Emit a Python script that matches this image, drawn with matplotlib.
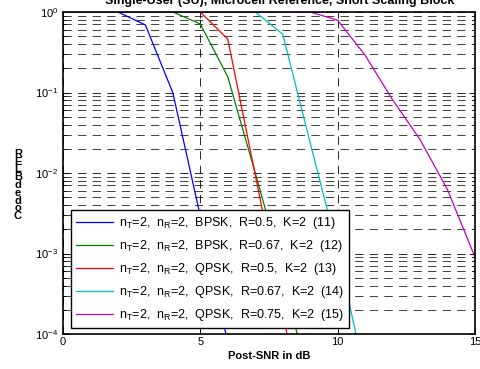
import matplotlib
matplotlib.use("Agg")
import matplotlib.pyplot as plt
import numpy as np

plt.rcParams['font.family'] = ['Liberation Sans', 'DejaVu Sans']
plt.rcParams['mathtext.fontset'] = 'custom'
plt.rcParams['mathtext.rm'] = 'Liberation Sans'
plt.rcParams['mathtext.it'] = 'Liberation Sans:italic'
plt.rcParams['mathtext.bf'] = 'Liberation Sans:bold'
plt.rcParams['lines.scale_dashes'] = False

# ---- data ----
x_blue = [0, 1, 2, 3, 4, 5, 6]
y_blue = [1, 1, 1, 0.69, 0.099, 2.9e-3, 7.8e-5]
x_green = [0, 1, 2, 3, 4, 5, 6, 7, 8, 9]
y_green = [1, 1, 1, 1, 1, 0.71, 0.156, 0.0100, 5.9e-4, 2e-5]
x_red = [0, 1, 2, 3, 4, 5, 6, 7, 8, 9]
y_red = [1, 1, 1, 1, 1, 1, 0.46, 9.5e-3, 1.9e-4, 3e-6]
x_cyan = [0, 1, 2, 3, 4, 5, 6, 7, 8, 9, 10, 11]
y_cyan = [1, 1, 1, 1, 1, 1, 1, 1, 0.53, 0.0236, 1.1e-3, 3e-5]
x_mag = [0, 1, 2, 3, 4, 5, 6, 7, 8, 9, 10, 11, 12, 13, 14, 15]
y_mag = [1, 1, 1, 1, 1, 1, 1, 1, 1, 1, 0.79, 0.29, 0.081, 0.026, 6.2e-3, 9e-4]

labels = [
    r'$\mathregular{n_T}$=2,  $\mathregular{n_R}$=2,  BPSK,  R=0.5,  K=2  (11)',
    r'$\mathregular{n_T}$=2,  $\mathregular{n_R}$=2,  BPSK,  R=0.67,  K=2  (12)',
    r'$\mathregular{n_T}$=2,  $\mathregular{n_R}$=2,  QPSK,  R=0.5,  K=2  (13)',
    r'$\mathregular{n_T}$=2,  $\mathregular{n_R}$=2,  QPSK,  R=0.67,  K=2  (14)',
    r'$\mathregular{n_T}$=2,  $\mathregular{n_R}$=2,  QPSK,  R=0.75,  K=2  (15)',
]
colors = ['#0000ff', '#008000', '#ff0000', '#00bfbf', '#bf00bf']
xticks = [0, 5, 10, 15]

fig = plt.figure(figsize=(4.8, 3.69), dpi=100)
ax = fig.add_axes([63/480, 1-334/369, 412/480, 322/369])

series = [(x_blue, y_blue), (x_green, y_green), (x_red, y_red),
          (x_cyan, y_cyan), (x_mag, y_mag)]
for (xs, ys), c, lab in zip(series, colors, labels):
    ax.plot(xs, ys, color=c, lw=0.9, label=lab)

ax.set_yscale('log')
ax.set_xlim(0, 15)
ax.set_ylim(1e-4, 1)
ax.set_xticks(xticks)
ax.set_xticklabels([str(t) for t in xticks])
ax.minorticks_on()
ax.xaxis.set_minor_locator(matplotlib.ticker.NullLocator())
ax.tick_params(which='both', direction='in', top=True, right=True,
               labelsize=8, width=0.6)
ax.tick_params(which='major', length=4)
ax.tick_params(which='minor', length=2.5)
ax.tick_params(axis='x', pad=2)
ax.grid(True, which='major', axis='both', color='k', lw=0.7,
        linestyle=(0, (6, 4.5)), alpha=0.85)
ax.grid(True, which='minor', axis='y', color='k', lw=0.7,
        linestyle=(0, (6, 4.5)), alpha=0.75)
for s in ax.spines.values():
    s.set_linewidth(1.2)

ax.set_xlabel('Post-SNR in dB', fontsize=8, fontweight='bold', labelpad=3)

leg = ax.legend(loc='lower left', fontsize=9, frameon=True, fancybox=False,
                edgecolor='k', framealpha=1, handlelength=3.0,
                handletextpad=0.45, labelspacing=0.55, borderpad=0.4,
                borderaxespad=0, bbox_to_anchor=(0.019, 0.019))
leg.get_frame().set_linewidth(1.0)

fig.text(280/480, 1-4/369, 'Single-User (SU), Microcell Reference, Short Scaling Block',
         ha='center', va='baseline', fontsize=9, fontweight='bold')

fig.text(18/480, 1-185/369, 'R\nE\nL\nB\nd\ne\nd\no\nC', ha='center', va='center',
         fontsize=8, fontweight='bold', linespacing=0.72)

fig.savefig('out.png', dpi=100)
